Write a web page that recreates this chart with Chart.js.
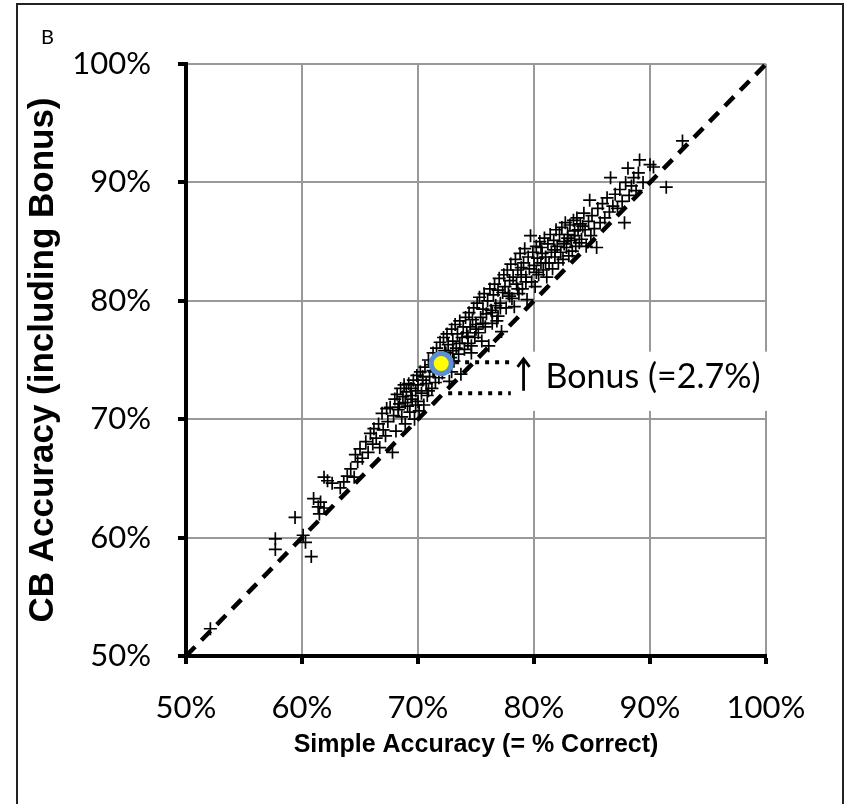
<!DOCTYPE html>
<html>
<head>
<meta charset="utf-8">
<script src="https://cdn.jsdelivr.net/npm/chart.js@4.4.1/dist/chart.umd.min.js"></script>
<style>
  body { margin: 0; background: #fff; }
  canvas { display: block; }
</style>
</head>
<body>
<canvas id="myChart" width="850" height="804"></canvas>
<script>
// Simple accuracy (x) and CB accuracy incl. bonus (y), in %
var simpleAccuracy = [
  52.1, 57.7, 57.7, 59.4, 60.1, 60.3, 60.8, 61.0, 61.4, 61.6, 61.5, 61.9, 62.2, 61.9, 62.6, 63.3,
  63.6, 63.9, 64.2, 64.5, 64.8, 64.6, 65.0, 65.2, 65.5, 65.7, 65.9, 66.1, 66.2, 66.4, 66.6, 66.7,
  66.9, 67.0, 67.2, 67.3, 67.4, 67.6, 67.8, 67.9, 68.0, 68.1, 68.2, 68.3, 68.4, 68.5, 68.6, 68.7,
  68.8, 68.9, 69.0, 69.1, 69.2, 69.3, 69.4, 69.5, 69.6, 69.7, 69.8, 69.9, 70.0, 70.0, 70.1, 70.2,
  70.3, 70.4, 70.5, 70.6, 70.7, 70.8, 70.9, 71.0, 71.1, 71.2, 71.3, 71.4, 71.5, 71.6, 71.7, 71.8,
  71.9, 72.0, 72.1, 72.2, 72.3, 72.4, 72.5, 72.6, 72.7, 72.8, 72.9, 73.0, 73.1, 73.2, 73.3, 73.4,
  73.5, 73.6, 73.7, 73.8, 73.9, 74.0, 74.1, 74.2, 74.3, 74.4, 74.5, 74.6, 74.7, 74.8, 74.9, 75.0,
  75.1, 75.2, 75.3, 75.4, 75.5, 75.6, 75.7, 75.8, 75.9, 76.0, 76.1, 76.2, 76.3, 76.4, 76.5, 76.6,
  76.7, 76.8, 76.9, 77.0, 77.1, 77.2, 77.3, 77.4, 77.5, 77.6, 77.7, 77.8, 77.9, 78.0, 78.1, 78.2,
  78.3, 78.4, 78.5, 78.6, 78.7, 78.8, 78.9, 79.0, 79.1, 79.2, 79.3, 79.4, 79.5, 79.6, 79.7, 79.8,
  79.9, 80.0, 80.1, 80.2, 80.3, 80.4, 80.5, 80.6, 80.7, 80.8, 80.9, 81.0, 81.1, 81.2, 81.3, 81.4,
  81.5, 81.6, 81.7, 81.8, 81.9, 82.0, 82.1, 82.2, 82.3, 82.4, 82.5, 82.6, 82.7, 82.8, 82.9, 83.0,
  83.1, 83.2, 83.3, 83.4, 83.5, 83.6, 83.7, 83.8, 83.9, 84.0, 84.1, 84.3, 84.4, 84.5, 84.7, 84.8,
  84.9, 85.0, 85.2, 85.4, 85.5, 85.7, 85.9, 86.1, 86.3, 86.5, 86.6, 86.8, 87.0, 87.2, 87.4, 87.6,
  87.8, 87.9, 88.1, 88.2, 88.4, 88.6, 88.8, 89.0, 89.1, 89.4, 90.0, 90.3, 91.4, 92.8,
  68.3, 68.9, 69.4, 69.8, 70.4, 70.9, 71.3, 71.8, 72.4, 73.0, 73.6, 74.3, 75.0, 75.6, 76.4, 77.1,
  77.9, 78.6, 79.3, 80.2, 81.0, 81.8, 82.6, 83.5, 84.2, 71.6, 72.9, 74.6, 76.9, 78.9, 80.6, 82.9
];
var cbAccuracy = [
  52.3, 59.9, 59.0, 61.7, 60.2, 59.6, 58.4, 63.3, 62.6, 63.0, 62.0, 62.5, 64.8, 65.1, 64.6, 64.2,
  64.7, 65.2, 65.8, 65.1, 66.4, 67.0, 67.5, 66.7, 68.1, 67.2, 68.8, 67.9, 69.2, 68.4, 69.6, 67.6,
  70.5, 69.1, 68.6, 70.9, 69.8, 71.0, 67.2, 70.3, 71.7, 69.0, 72.1, 70.8, 71.3, 72.6, 70.2, 71.9,
  72.9, 69.6, 72.3, 71.1, 73.0, 70.6, 72.6, 71.7, 73.3, 70.0, 72.4, 73.7, 71.5, 72.9, 70.7, 74.0,
  72.2, 73.3, 71.2, 74.4, 73.0, 72.0, 75.0, 73.6, 74.6, 72.6, 75.6, 74.0, 73.1, 76.0, 74.9, 73.5,
  76.5, 75.3, 73.9, 76.9, 75.8, 74.5, 77.2, 76.3, 73.2, 75.2, 77.6, 76.6, 74.9, 78.0, 76.0, 77.2,
  75.5, 78.3, 73.8, 76.9, 77.8, 75.9, 78.6, 77.3, 76.4, 79.0, 77.8, 75.6, 78.4, 79.4, 76.9, 78.0,
  79.8, 77.3, 80.3, 78.6, 76.6, 79.3, 80.6, 77.8, 78.9, 80.0, 76.2, 81.0, 79.2, 78.1, 80.5, 81.4,
  79.6, 78.3, 80.9, 81.9, 79.8, 77.4, 80.7, 82.2, 81.2, 79.4, 82.6, 80.6, 81.7, 83.1, 80.2, 82.0,
  79.5, 83.5, 81.4, 82.6, 80.6, 84.0, 82.2, 81.0, 83.2, 84.4, 82.0, 80.1, 83.7, 82.7, 85.5, 81.6,
  84.1, 83.0, 81.2, 84.6, 83.6, 82.2, 85.0, 83.2, 84.0, 82.6, 85.3, 83.7, 82.0, 84.8, 83.2, 85.6,
  84.1, 82.7, 85.1, 83.7, 86.0, 84.6, 83.2, 85.6, 84.1, 86.2, 83.5, 85.0, 86.6, 84.5, 85.6, 83.8,
  86.4, 85.1, 84.2, 86.8, 85.5, 84.6, 87.0, 86.0, 84.9, 86.5, 85.2, 87.4, 86.0, 84.6, 86.7, 88.5,
  85.5, 87.2, 86.1, 84.5, 87.8, 86.6, 88.2, 87.0, 88.7, 87.5, 90.4, 88.0, 89.0, 87.8, 89.4, 88.4,
  86.6, 90.0, 91.2, 88.9, 89.7, 90.4, 89.3, 90.8, 91.9, 90.0, 91.5, 91.3, 89.6, 93.5,
  71.0, 71.4, 72.0, 71.2, 73.6, 72.4, 74.1, 75.0, 75.6, 75.8, 76.4, 77.0, 77.6, 78.1, 79.0, 79.4,
  80.4, 81.0, 81.6, 82.4, 83.2, 84.3, 84.8, 85.9, 86.3, 74.4, 74.0, 76.2, 78.7, 82.8, 84.5, 85.3
];
// mean point and the two bonus reference levels
var meanSimple = 72.0;
var meanCB = 74.7;
var bonusLow = 72.2;
var bonusHigh = 74.8;
var bonusLabel = 'Bonus (=2.7%)';
var tickValues = [50, 60, 70, 80, 90, 100];

var points = simpleAccuracy.map(function (x, i) { return { x: x, y: cbAccuracy[i] }; });

var annotations = {
  id: 'annotations',
  beforeDraw: function (chart) {
    var c = chart.ctx;
    c.save();
    c.fillStyle = '#fff';
    c.fillRect(0, 0, chart.width, chart.height);
    c.restore();
  },
  afterDatasetsDraw: function (chart) {
    var c = chart.ctx;
    var xs = chart.scales.x, ys = chart.scales.y;
    c.save();
    // white box behind the label
    var bx = xs.getPixelForValue(78.8), by = ys.getPixelForValue(75.7);
    var bw = xs.getPixelForValue(100.2) - bx, bh = ys.getPixelForValue(70.7) - by;
    c.fillStyle = '#fff';
    c.fillRect(bx, by, bw, bh);
    // arrow
    var ax = xs.getPixelForValue(79.1);
    var ay1 = ys.getPixelForValue(72.4), ay2 = ys.getPixelForValue(75.1);
    c.strokeStyle = '#000';
    c.lineWidth = 2.8;
    c.beginPath();
    c.moveTo(ax, ay1); c.lineTo(ax, ay2 + 2);
    c.moveTo(ax - 6, ay2 + 8); c.lineTo(ax, ay2); c.lineTo(ax + 6, ay2 + 8);
    c.stroke();
    // label
    c.fillStyle = '#000';
    c.font = '34px Lato';
    c.textBaseline = 'alphabetic';
    c.fillText(bonusLabel, xs.getPixelForValue(81.0), ys.getPixelForValue(72.6));
    c.restore();
  },
  afterDraw: function (chart) {
    var c = chart.ctx;
    c.save();
    c.strokeStyle = '#222';
    c.lineWidth = 2;
    c.strokeRect(17, 4, 826, 820);
    c.fillStyle = '#000';
    c.font = '20px Lato';
    c.fillText('B', 41, 44);
    c.restore();
  }
};

var ctx = document.getElementById('myChart').getContext('2d');

var myChart = new Chart(ctx, {
  type: 'scatter',
  data: {
    datasets: [
      {
        label: 'mean',
        data: [{ x: meanSimple, y: meanCB }],
        pointRadius: 10,
        backgroundColor: '#ffff00',
        borderColor: '#5b8fd4',
        borderWidth: 5,
        order: 0
      },
      {
        label: 'bonus high',
        type: 'line',
        data: [{ x: 73.2, y: bonusHigh }, { x: 78.0, y: bonusHigh }],
        borderColor: '#000',
        borderWidth: 4,
        borderDash: [4, 6],
        pointRadius: 0,
        order: 1
      },
      {
        label: 'bonus low',
        type: 'line',
        data: [{ x: 72.6, y: bonusLow }, { x: 78.0, y: bonusLow }],
        borderColor: '#000',
        borderWidth: 4,
        borderDash: [4, 6],
        pointRadius: 0,
        order: 1
      },
      {
        label: 'diagonal',
        type: 'line',
        data: [{ x: 50, y: 50 }, { x: 100, y: 100 }],
        borderColor: '#000',
        borderWidth: 4.5,
        borderDash: [13, 9],
        pointRadius: 0,
        order: 2
      },
      {
        label: 'teams',
        data: points,
        pointStyle: 'cross',
        pointRadius: 6.5,
        borderColor: '#000',
        borderWidth: 1.7,
        order: 3
      }
    ]
  },
  options: {
    responsive: false,
    animation: false,
    layout: { padding: { left: 0, top: 64, right: 84, bottom: 0 } },
    plugins: {
      legend: { display: false },
      tooltip: { enabled: false }
    },
    scales: {
      x: {
        type: 'linear',
        min: 50,
        max: 100,
        afterFit: function (scale) { scale.height = 148; },
        afterBuildTicks: function (scale) { scale.ticks = tickValues.map(function (v) { return { value: v }; }); },
        ticks: {
          padding: 25,
          color: '#000',
          font: { family: 'Lato', size: 31 },
          callback: function (v) { return v + '%'; }
        },
        grid: { color: '#999', lineWidth: 2, tickColor: '#000', tickWidth: 4, tickLength: 8 },
        border: { color: '#000', width: 4 },
        title: {
          display: true,
          text: 'Simple Accuracy (= % Correct)',
          color: '#000',
          font: { family: 'Liberation Sans', size: 25, weight: 'bold' },
          padding: { bottom: 44 }
        }
      },
      y: {
        type: 'linear',
        min: 50,
        max: 100,
        afterFit: function (scale) { scale.width = 186; },
        afterBuildTicks: function (scale) { scale.ticks = tickValues.map(function (v) { return { value: v }; }); },
        ticks: {
          padding: 27,
          color: '#000',
          font: { family: 'Lato', size: 31 },
          callback: function (v) { return v + '%'; }
        },
        grid: { color: '#999', lineWidth: 2, tickColor: '#000', tickWidth: 4, tickLength: 8 },
        border: { color: '#000', width: 4 },
        title: {
          display: true,
          text: 'CB Accuracy (including Bonus)',
          color: '#000',
          font: { family: 'Liberation Sans', size: 35, weight: 'bold' },
          padding: { top: 22 }
        }
      }
    }
  },
  plugins: [annotations]
});
</script>
</body>
</html>
